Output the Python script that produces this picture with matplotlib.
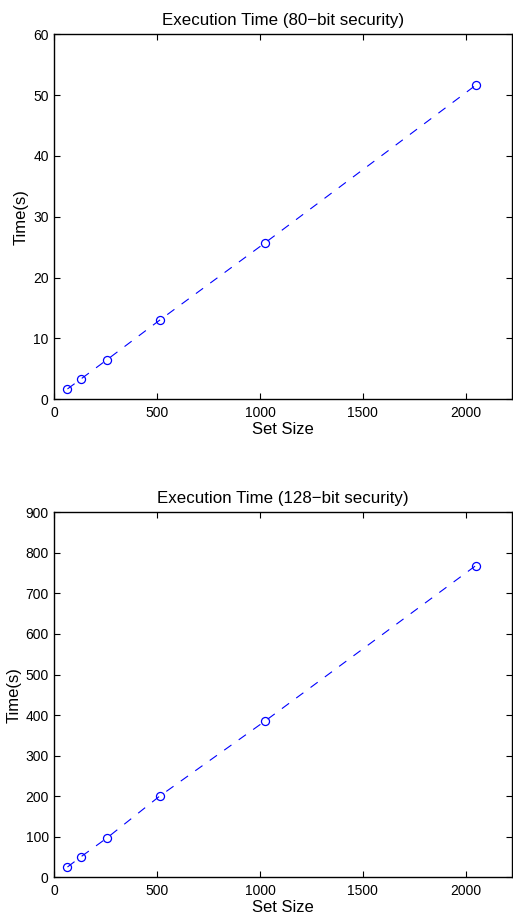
import matplotlib
matplotlib.use("Agg")
import matplotlib.pyplot as plt

plt.rcParams['font.family'] = ['Liberation Sans', 'DejaVu Sans']

set_size = [64, 128, 256, 512, 1024, 2048]
time_80 = [1.7, 3.3, 6.5, 13.0, 25.7, 51.6]
time_128 = [25.4, 50, 97, 200, 385, 768]

titles = ['Execution Time (80\u2212bit security)', 'Execution Time (128\u2212bit security)']
ylims = [(0, 60), (0, 900)]
yticks = [range(0, 61, 10), range(0, 901, 100)]
series = [time_80, time_128]

W, H = 513, 918
fig = plt.figure(figsize=(W / 100, H / 100), dpi=100)

# axes boxes in pixels: left, top, right, bottom
boxes = [(54.3, 34.3, 511.7, 399.3), (54.3, 512.3, 511.7, 877.3)]

for i in range(2):
    l, t, r, b = boxes[i]
    ax = fig.add_axes([l / W, 1 - b / H, (r - l) / W, (b - t) / H])
    ax.plot(set_size, series[i], color='#0000ff', linestyle=(0, (8, 8)),
            linewidth=0.8, marker='o', markersize=5.8, markerfacecolor='none',
            markeredgecolor='#0000ff', markeredgewidth=0.9)
    ax.set_xlim(0, 2224)
    ax.set_ylim(*ylims[i])
    ax.set_xticks([0, 500, 1000, 1500, 2000])
    ax.set_yticks(list(yticks[i]))
    ax.tick_params(direction='in', top=True, right=True, length=4, width=0.8,
                   labelsize=10, colors='black')
    ax.tick_params(axis='x', pad=5)
    ax.tick_params(axis='y', pad=4)
    for s in ax.spines.values():
        s.set_linewidth(1.0)
    ax.set_title(titles[i], fontsize=12.2, pad=7)
    ax.set_xlabel('Set Size', fontsize=12, labelpad=1)
    ax.set_ylabel('Time(s)', fontsize=12, labelpad=3)

fig.savefig('out.png', dpi=100)
